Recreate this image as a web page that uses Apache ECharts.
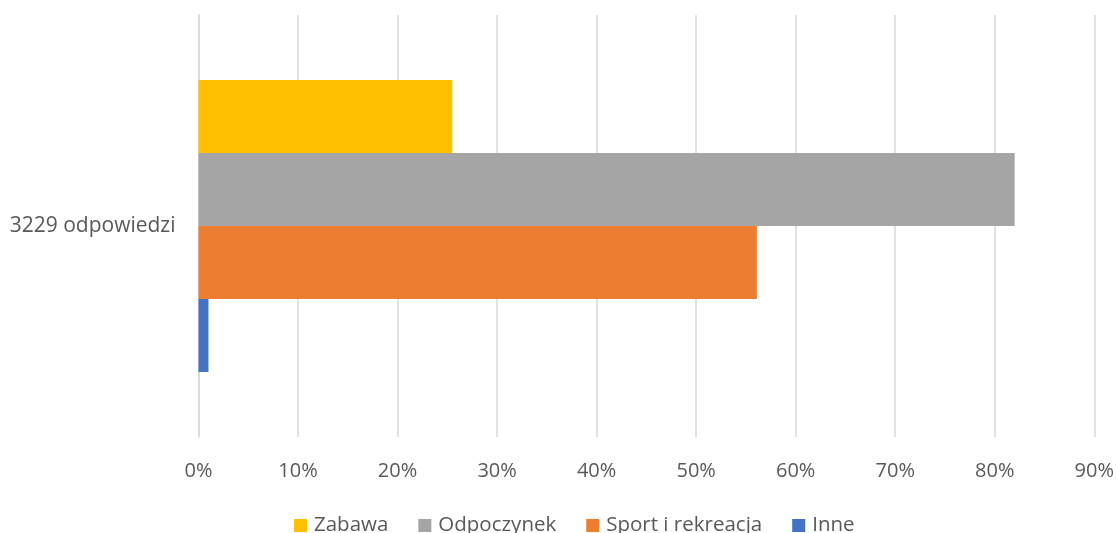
<!DOCTYPE html>
<html>
<head>
<meta charset="utf-8">
<script src="https://cdn.jsdelivr.net/npm/echarts@6/dist/echarts.min.js"></script>
<style>
  html, body { margin: 0; padding: 0; background: #fff; }
  #chart { width: 1117px; height: 533px; }
</style>
</head>
<body>
<div id="chart"></div>
<script>
// dane
var categories = ['3229 odpowiedzi'];
var seriesNames = ['Zabawa', 'Odpoczynek', 'Sport i rekreacja', 'Inne'];
var seriesValues = [[25.5], [82.0], [56.1], [1.0]];
var seriesColors = ['#FFC000', '#A5A5A5', '#ED7D31', '#4472C4'];
var xMin = 0, xMax = 90, xStep = 10;

var font = '"Open Sans", sans-serif';
var myChart = echarts.init(document.getElementById('chart'));

var series = [];
for (var i = 0; i < seriesNames.length; i++) {
    series.push({
        name: seriesNames[i],
        type: 'bar',
        data: seriesValues[i],
        barWidth: 73,
        barGap: '0%',
        itemStyle: { color: seriesColors[i] }
    });
}

var option = {
    animation: false,
    grid: { left: 198.5, right: 22.7, top: 15, bottom: 96, containLabel: false },
    legend: {
        data: seriesNames,
        left: 294,
        top: 515,
        padding: 0,
        itemWidth: 13,
        itemHeight: 13,
        itemGap: 30,
        icon: 'rect',
        textStyle: { color: '#595959', fontSize: 20.5, fontFamily: font, padding: [0, 0, 0, 2] }
    },
    xAxis: {
        type: 'value',
        min: xMin,
        max: xMax,
        interval: xStep,
        axisLine: { show: false },
        axisTick: { show: false },
        axisLabel: {
            formatter: '{value}%',
            color: '#595959',
            fontSize: 20,
            fontFamily: font,
            margin: 24
        },
        splitLine: { show: true, lineStyle: { color: '#D9D9D9', width: 1.5 } }
    },
    yAxis: {
        type: 'category',
        data: categories,
        inverse: true,
        axisLine: { show: true, lineStyle: { color: '#D9D9D9', width: 1.5 } },
        axisTick: { show: false },
        axisLabel: {
            color: '#595959',
            fontSize: 21,
            fontFamily: font,
            margin: 23
        }
    },
    series: series
};
myChart.setOption(option);
</script>
</body>
</html>
